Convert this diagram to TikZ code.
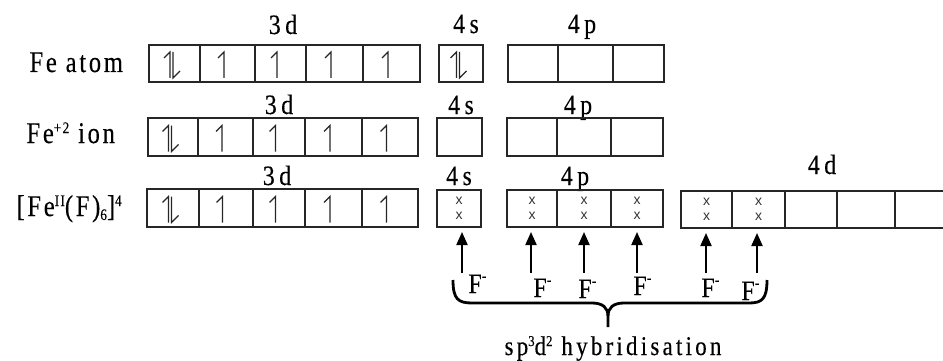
\documentclass[tikz,border=0pt]{standalone}
\usepackage{fontspec}
\setmainfont{Liberation Serif}
\newfontfamily\labfont[LetterSpace=16,FakeStretch=0.85,FakeBold=0.3]{Liberation Serif}
\newfontfamily\namefont[LetterSpace=9,FakeStretch=0.82,FakeBold=0.3]{Liberation Serif}
\newfontfamily\hybfont[LetterSpace=12,FakeStretch=0.85,FakeBold=0.3]{Liberation Serif}
\newfontfamily\xfont{Liberation Sans}
\usetikzlibrary{arrows.meta}
\newcommand\cellbox[6]{\node[cell, minimum width={#3-#2}, minimum height={#5-#4}] (#1) at ({(#2+#3)/2},{(#4+#5)/2}) {#6};}
\newcommand\sups[1]{\raisebox{10pt}{\fontsize{16}{16}\selectfont #1}}
\newcommand\subs[1]{\raisebox{-4pt}{\fontsize{16}{16}\selectfont #1}}
\newcommand\fsup{\raisebox{12pt}{\fontsize{16}{16}\selectfont -}}
\begin{document}
\begin{tikzpicture}[x=1pt,y=-1pt,
  cell/.style={draw=black!85, line width=1.3pt, inner sep=0pt, outer sep=0pt, align=center, font=\xfont\fontsize{14}{15}\selectfont, text=black!80},
  orb/.style={font=\labfont\fontsize{28}{30}\selectfont, anchor=base, text=black},
  lname/.style={font=\namefont\fontsize{30}{32}\selectfont, anchor=base west, text=black},
  fion/.style={font=\labfont\fontsize{28}{30}\selectfont, anchor=base west, text=black},
  hyb/.style={font=\hybfont\fontsize{27}{29}\selectfont, anchor=base, text=black},
  elec/.style={line width=1.2pt, draw=black!85},
  farrow/.style={line width=2pt, -{Triangle[width=11pt,length=13pt]}},
  brace/.style={line width=2.8pt},
  pairpic/.pic={\draw[elec] (-4.5,14.5)--(-4.5,-11.5)--(-10.5,-5.5); \draw[elec] (-1.5,-11.5)--(-1.5,14.5)--(5.5,7.5);},
  onepic/.pic={\draw[elec] (-3.5,14.5)--(-3.5,-11.5)--(-9.5,-5.5);}
]
\useasboundingbox (0,0) rectangle (943,361);
\clip (0,0) rectangle (943,361);

% row labels
\node[lname] (n1) at (26,72) {Fe atom};
\node[lname] (n2) at (23,143) {Fe\sups{+2} ion};
\node[lname] (n3) at (13,216) {[Fe\sups{II}(F)\subs{6}]\sups{4}};

% orbital labels
\node[orb] (l13d) at (283,34) {3d};
\node[orb] (l14s) at (466,33) {4s};
\node[orb] (l14p) at (582,33) {4p};
\node[orb] (l23d) at (279,114) {3d};
\node[orb] (l24s) at (461,114) {4s};
\node[orb] (l24p) at (578,114) {4p};
\node[orb] (l33d) at (277,185) {3d};
\node[orb] (l34s) at (459,185) {4s};
\node[orb] (l34p) at (575,185) {4p};
\node[orb] (l34d) at (822,174) {4d};

% row 1
\cellbox{a1}{149}{200}{45}{82}{}
\cellbox{a2}{200}{255}{45}{82}{}
\cellbox{a3}{255}{306}{45}{82}{}
\cellbox{a4}{306}{363}{45}{82}{}
\cellbox{a5}{363}{420}{45}{82}{}
\cellbox{a6}{439}{483}{45}{82}{}
\cellbox{a7}{508}{558}{45}{82}{}
\cellbox{a8}{558}{613}{45}{82}{}
\cellbox{a9}{613}{664}{45}{82}{}
\pic at (a1) {pairpic};
\pic at (a2) {onepic};
\pic at (a3) {onepic};
\pic at (a4) {onepic};
\pic at (a5) {onepic};
\pic at (a6) {pairpic};

% row 2
\cellbox{b1}{148}{198}{118}{156}{}
\cellbox{b2}{198}{253}{118}{156}{}
\cellbox{b3}{253}{305}{118}{156}{}
\cellbox{b4}{305}{362}{118}{156}{}
\cellbox{b5}{362}{418}{118}{156}{}
\cellbox{b6}{437}{482}{118}{156}{}
\cellbox{b7}{507}{557}{118}{156}{}
\cellbox{b8}{557}{611}{118}{156}{}
\cellbox{b9}{611}{663}{118}{156}{}
\pic at (b1) {pairpic};
\pic at (b2) {onepic};
\pic at (b3) {onepic};
\pic at (b4) {onepic};
\pic at (b5) {onepic};

% row 3
\cellbox{c1}{147}{199}{189}{227}{}
\cellbox{c2}{199}{253}{189}{227}{}
\cellbox{c3}{253}{305}{189}{227}{}
\cellbox{c4}{305}{362}{189}{227}{}
\cellbox{c5}{362}{418}{189}{227}{}
\cellbox{c6}{437}{481}{190}{227}{x\\x}
\cellbox{c7}{507}{557}{190}{227}{x\\x}
\cellbox{c8}{557}{611}{190}{227}{x\\x}
\cellbox{c9}{611}{663}{190}{227}{x\\x}
\cellbox{d1}{681}{732}{191}{228}{x\\x}
\cellbox{d2}{732}{785}{191}{228}{x\\x}
\cellbox{d3}{785}{837}{191}{228}{}
\cellbox{d4}{837}{895}{191}{228}{}
\cellbox{d5}{895}{955}{191}{228}{}
\pic at (c1) {pairpic};
\pic at (c2) {onepic};
\pic at (c3) {onepic};
\pic at (c4) {onepic};
\pic at (c5) {onepic};

% ligand arrows
\coordinate (f1) at (462,273);
\coordinate (f2) at (531,273);
\coordinate (f3) at (584,273);
\coordinate (f4) at (637,273);
\coordinate (f5) at (706,273);
\coordinate (f6) at (757,273);
\draw[farrow] (f1) -- ([yshift=-5pt]f1 |- c6.south);
\draw[farrow] (f2) -- ([yshift=-5pt]f2 |- c7.south);
\draw[farrow] (f3) -- ([yshift=-5pt]f3 |- c8.south);
\draw[farrow] (f4) -- ([yshift=-5pt]f4 |- c9.south);
\draw[farrow] (f5) -- ([yshift=-5pt]f5 |- d1.south);
\draw[farrow] (f6) -- ([yshift=-5pt]f6 |- d2.south);

\node[fion] (F1) at (465,293) {F\fsup};
\node[fion] (F2) at (530,297) {F\fsup};
\node[fion] (F3) at (575,298) {F\fsup};
\node[fion] (F4) at (630,295) {F\fsup};
\node[fion] (F5) at (698,297) {F\fsup};
\node[fion] (F6) at (738,300) {F\fsup};

% brace
\draw[brace] (453,280) .. controls (453,299) and (458,303) .. (472,303) -- (592,303) .. controls (603,303) and (608,308) .. (608,316) -- (608,327);
\draw[brace] (608,316) .. controls (608,308) and (613,303) .. (624,303) -- (749,303) .. controls (762,303) and (767,299) .. (767,280);

\node[hyb] (hybr) at (613,355) {sp\raisebox{9pt}{\fontsize{15}{15}\selectfont 3}d\raisebox{9pt}{\fontsize{15}{15}\selectfont 2} hybridisation};
\end{tikzpicture}
\end{document}
